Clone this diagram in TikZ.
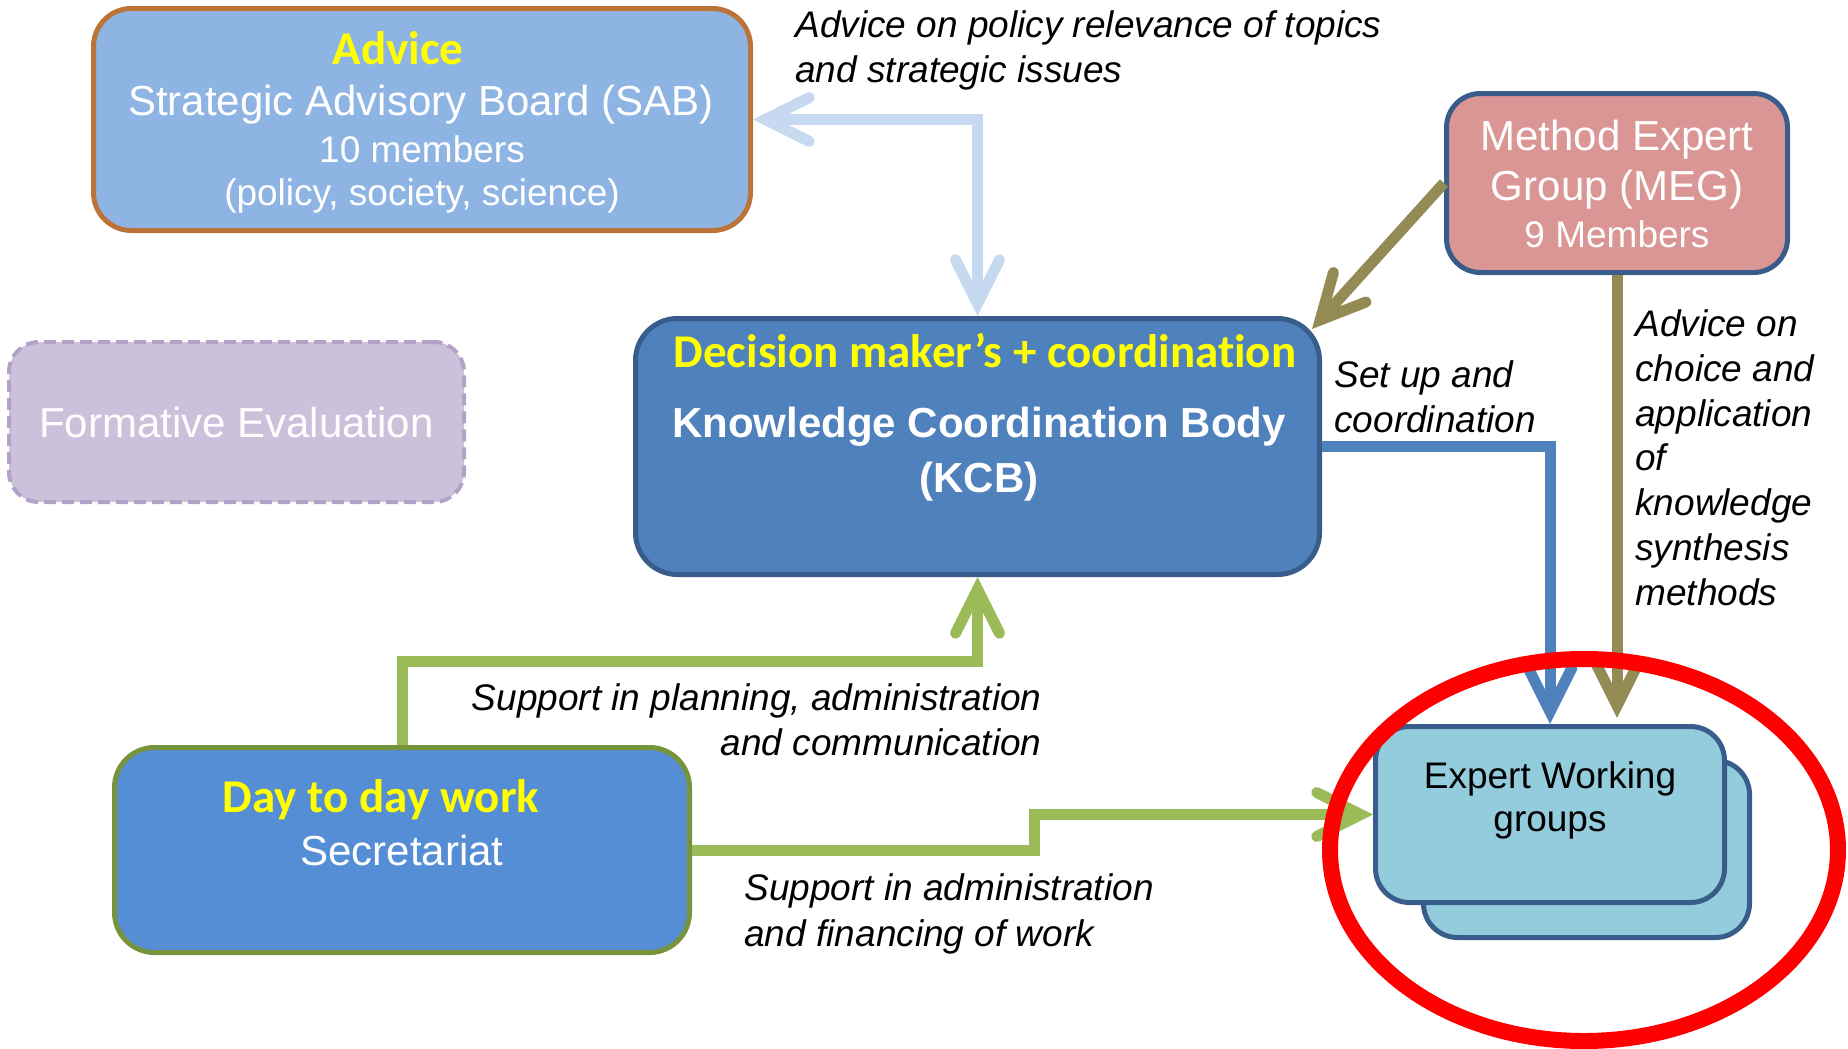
\documentclass[tikz,border=0pt]{standalone}
\usepackage{fontspec}
\setmainfont{Liberation Sans}
\newfontfamily\calibri[Ligatures={NoCommon,NoContextual}]{Carlito}
\usetikzlibrary{arrows.meta}

\definecolor{sabfill}{HTML}{8EB4E3}
\definecolor{sabline}{RGB}{187,115,55}
\definecolor{fefill}{HTML}{CCC1DA}
\definecolor{feline}{HTML}{B3A2C7}
\definecolor{kcbfill}{HTML}{4F81BD}
\definecolor{darkline}{HTML}{385D8A}
\definecolor{megfill}{HTML}{D99694}
\definecolor{secfill}{HTML}{558ED5}
\definecolor{secline}{HTML}{77933C}
\definecolor{ewgfill}{HTML}{93CDDD}
\definecolor{advline}{HTML}{C6D9F1}
\definecolor{methline}{HTML}{948A54}
\definecolor{supline}{HTML}{9BBB59}
\definecolor{headyellow}{HTML}{FFFF00}

\tikzset{
unitbox/.style={
  rectangle,
  line width=2.5pt,
  inner sep=0pt,
  }
}
\tikzset{
headtext/.style={
  font=\calibri\bfseries\fontsize{23.5pt}{28pt}\selectfont,
  text=headyellow,
  anchor=base,
  inner sep=0pt,
  }
}
\tikzset{
boxtext/.style={
  font=\fontsize{21pt}{25pt}\selectfont,
  text=white,
  anchor=base,
  align=center,
  inner sep=0pt,
  }
}
\tikzset{
notetext/.style={
  font=\itshape\fontsize{18.5pt}{22.5pt}\selectfont,
  align=left,
  anchor=base west,
  inner sep=0pt,
  }
}
\tikzset{
barb/.tip={Straight Barb[length=22pt,width=22pt,line cap=round,line join=miter]},
flowline/.style={
  line width=5.5pt,
  -barb
  }
}

\begin{document}
\begin{tikzpicture}[x=0.5pt,y=-0.5pt]
    \useasboundingbox (0,0) rectangle (1848,1049);

    % boxes
    \node[unitbox, draw=sabline, fill=sabfill, rounded corners=19pt, minimum width=328.5pt, minimum height=111pt] (sab) at (422,119.5) {};
    \node[unitbox, draw=feline, fill=fefill, line width=2pt, dash pattern=on 6pt off 3pt, rounded corners=15pt, minimum width=227.5pt, minimum height=80pt, text=white, font=\fontsize{21pt}{25pt}\selectfont] (fe) at (236.5,422) {Formative Evaluation};
    \node[unitbox, draw=darkline, fill=kcbfill, rounded corners=21pt, minimum width=342pt, minimum height=128pt] (kcb) at (977.5,446.5) {};
    \node[unitbox, draw=darkline, fill=megfill, rounded corners=17pt, minimum width=170.5pt, minimum height=89.5pt] (meg) at (1617,183) {};
    \node[unitbox, draw=secline, fill=secfill, rounded corners=20pt, minimum width=287.5pt, minimum height=102.5pt] (sec) at (402,850) {};
    \node[unitbox, draw=darkline, fill=ewgfill, rounded corners=17pt, minimum width=163pt, minimum height=88.5pt] (ewgback) at (1586.5,849) {};
    \node[unitbox, draw=darkline, fill=ewgfill, rounded corners=17pt, minimum width=174.5pt, minimum height=88pt] (ewg) at (1550,814.5) {};

    % box texts (base = last line)
    \node[headtext] (sabhead) at (398,64) {Advice};
    \node[boxtext] (sabname) at (421,115) {Strategic Advisory Board (SAB)};
    \node[boxtext, font=\fontsize{18.5pt}{21.5pt}\selectfont] (sabinfo) at (422,205) {10 members\\(policy, society, science)};
    \node[headtext] (kcbhead) at (985,367) {Decision maker’s + coordination};
    \node[boxtext, font=\bfseries\fontsize{21pt}{27.5pt}\selectfont] (kcbname) at (979,492) {Knowledge Coordination Body\\(KCB)};
    \node[boxtext] (megname) at (1617,200) {Method Expert\\Group (MEG)};
    \node[boxtext, font=\fontsize{18.5pt}{22pt}\selectfont] (meginfo) at (1617,247) {9 Members};
    \node[headtext] (sechead) at (381,812) {Day to day work};
    \node[boxtext] (secname) at (402,865) {Secretariat};
    \node[boxtext, text=black, font=\fontsize{18.5pt}{21.5pt}\selectfont] (ewgname) at (1550,831) {Expert Working\\groups};

    % edge labels
    \node[notetext] (sabnote) at (795,82) {Advice on policy relevance of topics\\and strategic issues};
    \node[notetext] (kcbnote) at (1334,432) {Set up and\\coordination};
    \node[notetext, font=\itshape\fontsize{18.5pt}{22.35pt}\selectfont] (megnote) at (1635,605) {Advice on\\choice and\\application\\of\\knowledge\\synthesis\\methods};
    \node[notetext, align=right, anchor=base east] (plannote) at (1042,755) {Support in planning, administration\\and communication};
    \node[notetext, font=\itshape\fontsize{18.5pt}{23pt}\selectfont] (worknote) at (744,946) {Support in administration\\and financing of work};

    % edges
    \draw[flowline, color=advline, barb-barb] (sab.east) -| (kcb.north);
    \draw[flowline, color=methline] (meg.west) -- ([xshift=-5pt,yshift=-6.5pt]kcb.north east);
    \draw[flowline, color=kcbfill] (kcb.east) -| (ewg.north);
    \draw[flowline, color=methline, shorten >=3pt] (meg.south) -- (meg.south |- ewg.north);
    \draw[flowline, color=supline] (sec.north) |- ([yshift=-42pt]kcb.south) -- (kcb.south);
    \draw[flowline, color=supline] (sec.east) -- ++(342,0) |- (ewg.west);

    % highlight
    \draw[line width=8pt, red] (1584,850) ellipse [x radius=127pt, y radius=95.5pt];
\end{tikzpicture}
\end{document}
